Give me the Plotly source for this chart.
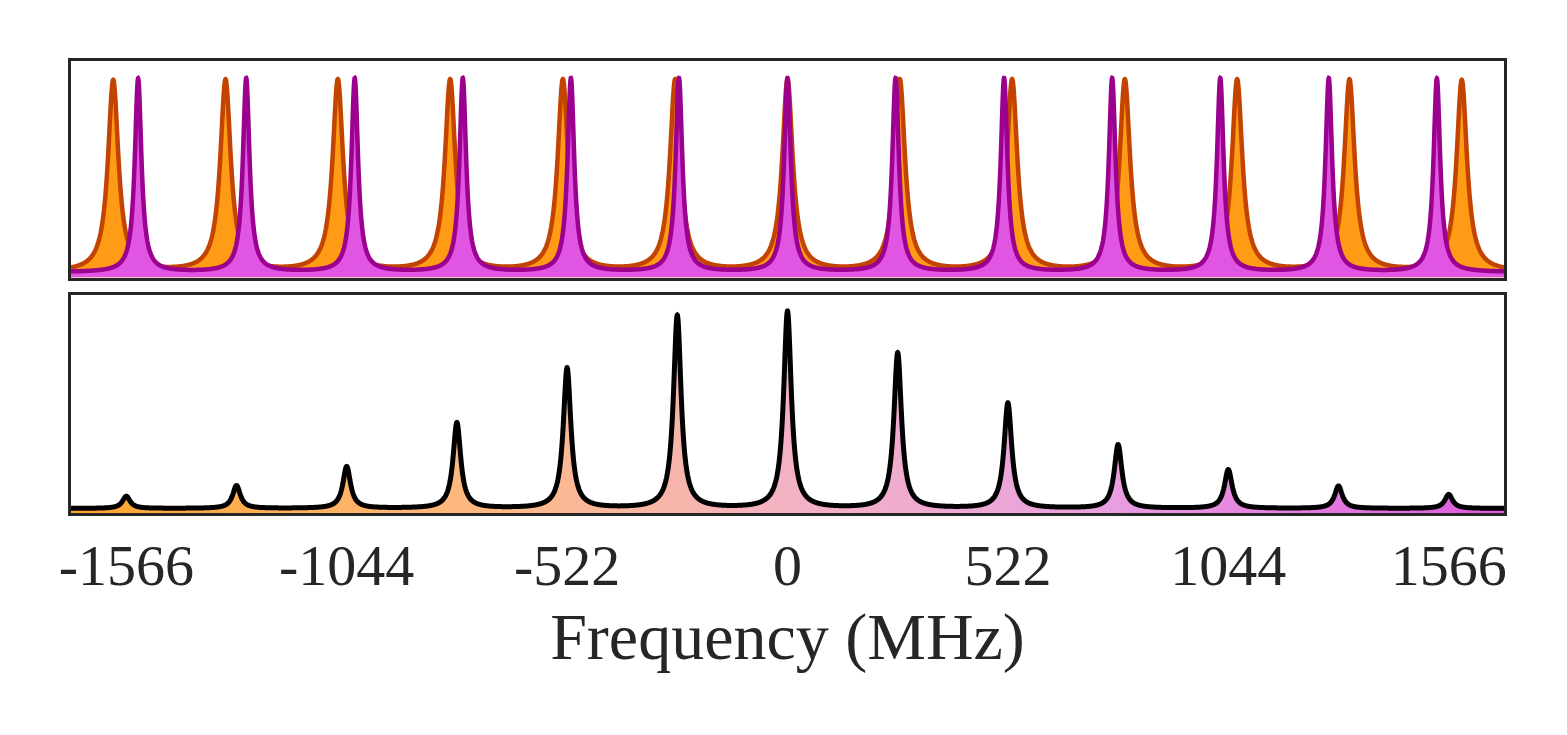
import numpy as np
import plotly.graph_objects as go

# ---------------- data ----------------
# top panel: two Lorentzian combs (peak centres in MHz, peak heights in a.u.)
orange_centers = [-1597, -1331, -1065, -799, -532, -266, 0, 266, 532, 799, 1065, 1331, 1597]
orange_heights = [0.95, 0.95, 0.95, 0.95, 0.95, 0.95, 0.95, 0.95, 0.95, 0.95, 0.95, 0.95, 0.95]
magenta_centers = [-1538, -1282, -1025, -769, -513, -257, 0, 256, 513, 769, 1025, 1282, 1538]
magenta_heights = [0.96, 0.96, 0.96, 0.96, 0.96, 0.96, 0.96, 0.96, 0.96, 0.96, 0.96, 0.96, 0.96]
orange_hwhm = 15.0      # MHz
magenta_hwhm = 9.5      # MHz
top_background = 0.026

# bottom panel: resulting comb
bottom_centers = [-1566, -1305, -1044, -783, -522, -261, 0, 261, 522, 783, 1044, 1305, 1566]
bottom_heights = [0.060, 0.112, 0.205, 0.420, 0.688, 0.945, 0.965, 0.762, 0.516, 0.312, 0.190, 0.110, 0.069]
bottom_hwhm = 11.0      # MHz
bottom_background = 0.022

tick_vals = [-1566, -1044, -522, 0, 522, 1044, 1566]
tick_text = ["-1566", "-1044", "-522", "0", "522", "1044", "1566"]
x_range = [-1697, 1697]

# ---------------- line shapes ----------------
freq = np.linspace(x_range[0], x_range[1], 14000)


def comb(centers, heights, hwhm, background):
    y = np.full_like(freq, background)
    for c, h in zip(centers, heights):
        y += h * hwhm ** 2 / ((freq - c) ** 2 + hwhm ** 2)
    return y


y_orange = comb(orange_centers, orange_heights, orange_hwhm, top_background)
y_magenta = comb(magenta_centers, magenta_heights, magenta_hwhm, top_background)
y_bottom = comb(bottom_centers, bottom_heights, bottom_hwhm, bottom_background)

# ---------------- figure ----------------
fig = go.Figure()
fig.add_trace(go.Scatter(
    x=freq, y=y_orange, mode="lines", xaxis="x", yaxis="y",
    line=dict(color="#C24400", width=4.5, simplify=False), fill="tozeroy", fillcolor="#FF9B14",
    hoverinfo="skip", showlegend=False))
fig.add_trace(go.Scatter(
    x=freq, y=y_magenta, mode="lines", xaxis="x", yaxis="y",
    line=dict(color="#9B008F", width=4.5, simplify=False), fill="tozeroy", fillcolor="#E056E3",
    hoverinfo="skip", showlegend=False))
fig.add_trace(go.Scatter(
    x=freq, y=y_bottom, mode="lines", xaxis="x2", yaxis="y2",
    line=dict(color="#000000", width=5, simplify=False), fill="tozeroy",
    fillgradient=dict(type="horizontal", colorscale=[
        [0.0, "#FFA52E"], [0.3, "#FDBA86"], [0.5, "#F3B2C3"],
        [0.72, "#E9A0E0"], [1.0, "#DE5ADE"]]),
    hoverinfo="skip", showlegend=False))

frame = dict(showline=True, mirror=True, linecolor="#262626", linewidth=2.6,
             showgrid=False, zeroline=False, ticks="")
serif = "Liberation Serif, Times New Roman, serif"

fig.update_layout(
    width=1567, height=735,
    margin=dict(l=71, r=63, t=61, b=222),
    paper_bgcolor="white", plot_bgcolor="white",
    xaxis=dict(domain=[0, 1], range=x_range, showticklabels=False, anchor="y", **frame),
    yaxis=dict(domain=[0.521, 1.0], range=[0, 1.074], showticklabels=False, anchor="x", **frame),
    xaxis2=dict(domain=[0, 1], range=x_range, anchor="y2", tickvals=tick_vals, ticktext=tick_text,
                tickfont=dict(family=serif, size=58, color="#262626"),
                title=dict(text="Frequency (MHz)", font=dict(family=serif, size=66, color="#262626"),
                           standoff=16),
                **frame),
    yaxis2=dict(domain=[0, 0.4834], range=[0, 1.072], showticklabels=False, anchor="x2", **frame),
)

fig.write_html("out.html")
